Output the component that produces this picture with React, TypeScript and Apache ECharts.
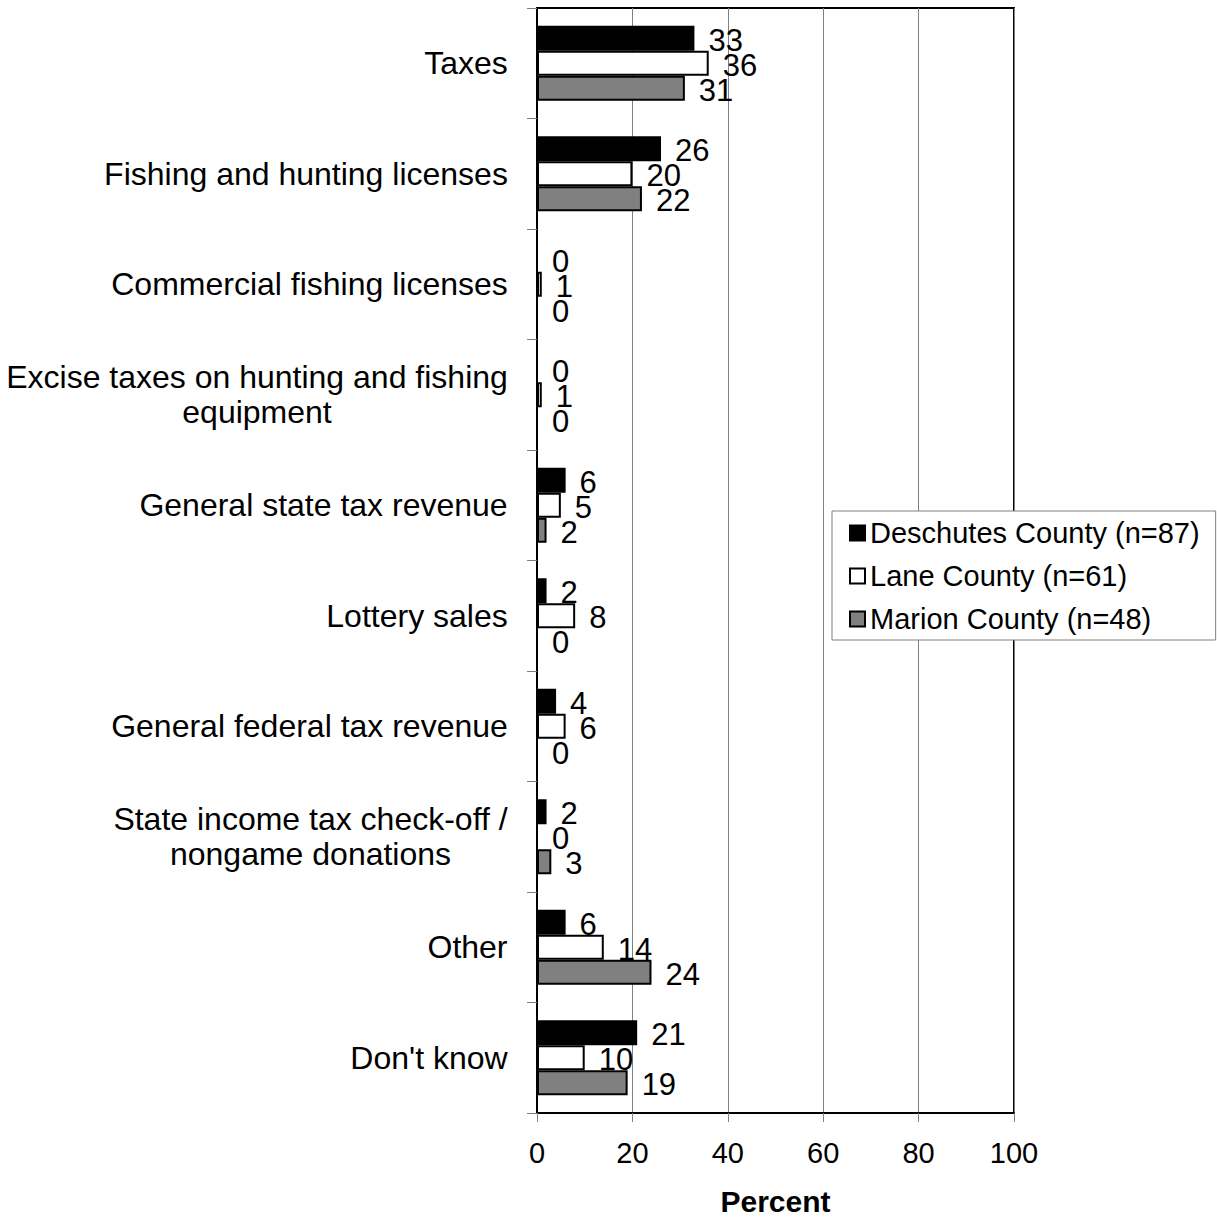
import React, { useEffect, useRef } from "react";
import * as echarts from "echarts";

const categories = [
  "Taxes",
  "Fishing and hunting licenses",
  "Commercial fishing licenses",
  "Excise taxes on hunting and fishing\nequipment",
  "General state tax revenue",
  "Lottery sales",
  "General federal tax revenue",
  "State income tax check-off /\nnongame donations",
  "Other",
  "Don't know",
];
const deschutes = [33, 26, 0, 0, 6, 2, 4, 2, 6, 21];
const lane = [36, 20, 1, 1, 5, 8, 6, 0, 14, 10];
const marion = [31, 22, 0, 0, 2, 0, 0, 3, 24, 19];
const seriesNames = [
  "Deschutes County (n=87)",
  "Lane County (n=61)",
  "Marion County (n=48)",
];
const xTicks = [0, 20, 40, 60, 80, 100];

const FONT = "'Liberation Sans', Arial, Helvetica, sans-serif";

export default function App() {
  const ref = useRef<HTMLDivElement>(null);
  useEffect(() => {
    document.body.style.margin = "0";
    const chart = echarts.init(ref.current!, undefined, { renderer: "svg" });
    const catFont = 32;
    const canvas = document.createElement("canvas");
    const ctx = canvas.getContext("2d")!;
    ctx.font = `${catFont}px 'Liberation Sans'`;
    const rich: Record<string, any> = {};
    categories.forEach((c, i) => {
      const lines = c.split("\n");
      const w = Math.max(...lines.map((l) => ctx.measureText(l).width));
      rich["w" + i] = {
        width: Math.ceil(w),
        align: "center",
        fontSize: catFont,
        fontFamily: FONT,
        color: "#000",
        lineHeight: 35,
      };
    });
    const mk = (name: string, data: number[], color: string) => ({
      name,
      type: "bar",
      data,
      barGap: "0%",
      barCategoryGap: "32%",
      itemStyle: { color, borderColor: "#000", borderWidth: 2 },
      label: {
        show: true,
        position: "right",
        distance: 14,
        fontSize: 31,
        fontFamily: FONT,
        color: "#000",
        offset: [0, 2],
      },
    });
    chart.setOption({
      animation: false,
      textStyle: { fontFamily: FONT },
      grid: {
        left: 537,
        top: 8,
        width: 477,
        height: 1105,
        show: true,
        borderColor: "#000",
        borderWidth: 2,
        backgroundColor: "transparent",
        outerBoundsMode: "none",
        containLabel: false,
      },
      legend: {
        orient: "vertical",
        left: 832,
        top: 511,
        padding: [6, 16, 5, 17],
        itemGap: 11,
        itemWidth: 15,
        itemHeight: 15,
        itemTextGap: 7,
        icon: "rect",
        backgroundColor: "#fff",
        borderColor: "#808080",
        borderWidth: 1,
        textStyle: { fontSize: 29, fontFamily: FONT, color: "#000", lineHeight: 32 },
        data: seriesNames.map((n) => ({ name: n })),
      },
      xAxis: {
        type: "value",
        min: 0,
        max: 100,
        interval: 20,
        name: "Percent",
        nameLocation: "middle",
        nameGap: 72,
        nameTextStyle: {
          fontSize: 30,
          fontWeight: "bold",
          fontFamily: FONT,
          color: "#000",
          lineHeight: 32,
        },
        axisLine: { show: true, lineStyle: { color: "#000", width: 2 } },
        axisTick: { show: true, length: 9, lineStyle: { color: "#808080", width: 1 } },
        axisLabel: {
          fontSize: 29,
          fontFamily: FONT,
          color: "#000",
          margin: 25,
          formatter: (v: number) => (xTicks.includes(v) ? String(v) : ""),
        },
        splitLine: { show: true, lineStyle: { color: "#808080", width: 1 } },
      },
      yAxis: {
        type: "category",
        inverse: true,
        data: categories,
        axisLine: { show: true, lineStyle: { color: "#000", width: 2 } },
        axisTick: { show: true, length: 10, lineStyle: { color: "#808080", width: 1 } },
        axisLabel: {
          margin: 29,
          fontSize: catFont,
          fontFamily: FONT,
          color: "#000",
          formatter: (v: string) => {
            const i = categories.indexOf(v);
            return v
              .split("\n")
              .map((l) => `{w${i}|${l}}`)
              .join("\n");
          },
          rich,
        },
        splitLine: { show: false },
      },
      series: [
        mk(seriesNames[0], deschutes, "#000000"),
        mk(seriesNames[1], lane, "#ffffff"),
        mk(seriesNames[2], marion, "#808080"),
      ],
    });
    return () => chart.dispose();
  }, []);
  return (
    <div
      ref={ref}
      style={{ position: "absolute", left: 0, top: 0, width: 1217, height: 1220 }}
    />
  );
}
